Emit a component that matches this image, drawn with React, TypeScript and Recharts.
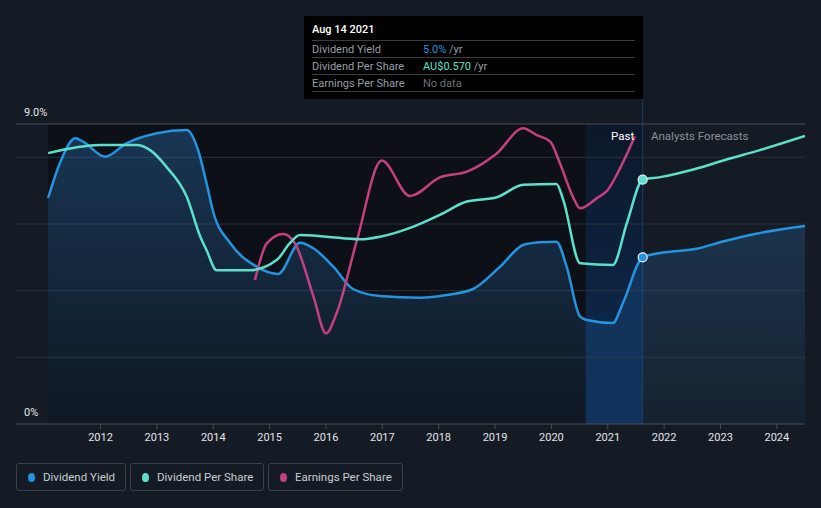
import React from 'react';
import { ComposedChart, Area, Line, XAxis, YAxis, ReferenceLine, ReferenceArea } from 'recharts';

// ---- data ----
const yearTicks = [2012, 2013, 2014, 2015, 2016, 2017, 2018, 2019, 2020, 2021, 2022, 2023, 2024];
const pctTicks = [0, 9];
const gridValues = [2, 4, 6, 8];

const yieldYears = [2011.07, 2011.28, 2011.55, 2011.69, 2012.08, 2012.46, 2013.0, 2013.53, 2013.73, 2013.88, 2014.0, 2014.3, 2014.77, 2015.15, 2015.54, 2015.77, 2016.13, 2016.48, 2016.96, 2017.67, 2018.14, 2018.61, 2019.09, 2019.5, 2019.8, 2020.09, 2020.27, 2020.51, 2020.63, 2021.09, 2021.27, 2021.62, 2021.93, 2022.55, 2023.08, 2023.7, 2024.5];
const yieldValues = [6.78, 7.83, 8.57, 8.47, 8.02, 8.42, 8.72, 8.82, 8.22, 7.23, 6.36, 5.43, 4.72, 4.5, 5.44, 5.28, 4.72, 4.05, 3.84, 3.79, 3.87, 4.05, 4.72, 5.37, 5.45, 5.47, 4.72, 3.22, 3.12, 3.03, 3.63, 5.0, 5.13, 5.25, 5.49, 5.73, 5.94];

const dpsYears = [2011.07, 2011.99, 2012.64, 2012.88, 2013.17, 2013.53, 2013.77, 2013.88, 2014.06, 2014.65, 2015.13, 2015.36, 2015.54, 2016.01, 2016.6, 2016.96, 2017.54, 2018.02, 2018.5, 2019.03, 2019.5, 2020.09, 2020.21, 2020.51, 2021.09, 2021.34, 2021.62, 2021.93, 2022.55, 2023.08, 2023.7, 2024.5];
const dpsValues = [0.632, 0.651, 0.651, 0.639, 0.6, 0.53, 0.437, 0.406, 0.359, 0.359, 0.383, 0.422, 0.441, 0.437, 0.431, 0.437, 0.46, 0.488, 0.519, 0.529, 0.558, 0.56, 0.523, 0.375, 0.371, 0.469, 0.57, 0.576, 0.595, 0.616, 0.639, 0.672];

const epsYears = [2014.74, 2014.95, 2015.24, 2015.45, 2015.78, 2016.0, 2016.19, 2016.55, 2016.99, 2017.49, 2018.02, 2018.5, 2019.03, 2019.5, 2019.74, 2019.98, 2020.15, 2020.38, 2020.51, 2020.8, 2021.0, 2021.22, 2021.48];
const epsValues = [0.48, 0.602, 0.633, 0.602, 0.424, 0.302, 0.37, 0.613, 0.878, 0.76, 0.822, 0.841, 0.902, 0.986, 0.963, 0.941, 0.87, 0.758, 0.719, 0.752, 0.78, 0.853, 0.958];

const pastStart = 2011.07;
const forecastStart = 2020.61;
const currentYear = 2021.62;

const yieldData = yieldYears.map((x, i) => ({ x, v: yieldValues[i] }));
const dpsData = dpsYears.map((x, i) => ({ x, v: dpsValues[i] }));
const epsData = epsYears.map((x, i) => ({ x, v: epsValues[i] }));

const C_YIELD = '#2394df';
const C_DPS = '#5ce0cc';
const C_EPS = '#c4407f';
const FONT = 'Roboto, "Noto Sans", sans-serif';

const makeDot = (color: string) => (props: any) => {
  const { cx, cy, payload, index } = props;
  if (payload && payload.x === currentYear) {
    return <circle key={`d${index}`} cx={cx} cy={cy} r={4.5} fill={color} stroke="#e8eef5" strokeWidth={1.2} />;
  }
  return <g key={`d${index}`} />;
};

const PctTick = (props: any) => {
  const { y, payload } = props;
  return (
    <text x={24} y={y - 8} fill="#e6e8eb" fontSize={11} fontFamily={FONT}>
      {payload.value === 0 ? '0%' : `${Number(payload.value).toFixed(1)}%`}
    </text>
  );
};

export default function App() {
  const legend = [
    { label: 'Dividend Yield', color: C_YIELD, w: 110 },
    { label: 'Dividend Per Share', color: C_DPS, w: 134 },
    { label: 'Earnings Per Share', color: C_EPS, w: 135 },
  ];
  return (
    <div style={{ position: 'absolute', left: 0, top: 0, width: 821, height: 508, background: '#151b24', fontFamily: FONT, overflow: 'hidden' }}>
      <ComposedChart width={821} height={508} margin={{ top: 124, right: 16, bottom: 54, left: 0 }}>
        <defs>
          <linearGradient id="yieldFill" x1="0" y1="0" x2="0" y2="1">
            <stop offset="0%" stopColor="#2c76bf" stopOpacity={0.36} />
            <stop offset="100%" stopColor="#2c76bf" stopOpacity={0.07} />
          </linearGradient>
          <linearGradient id="nowFill" x1="0" y1="0" x2="0" y2="1">
            <stop offset="0%" stopColor="#0c1829" stopOpacity={1} />
            <stop offset="100%" stopColor="#0e2d54" stopOpacity={1} />
          </linearGradient>
        </defs>
        <XAxis
          xAxisId="x"
          type="number"
          dataKey="x"
          domain={[2010.5, 2024.5]}
          ticks={yearTicks}
          allowDataOverflow
          height={30}
          stroke="#4a4f57"
          tickSize={5}
          tickMargin={4}
          tick={{ fill: '#e2e4e8', fontSize: 11, fontFamily: FONT }}
          tickFormatter={(v: number) => String(v)}
        />
        <YAxis yAxisId="pct" domain={[0, 9]} ticks={pctTicks} width={16} axisLine={false} tickLine={false} tick={PctTick} allowDataOverflow interval={0} />
        <YAxis yAxisId="dps" domain={[0, 0.7]} hide allowDataOverflow />
        <YAxis yAxisId="eps" domain={[0, 1]} hide allowDataOverflow />

        <ReferenceArea zIndex={-20} xAxisId="x" yAxisId="pct" x1={pastStart} x2={currentYear} y1={0} y2={9} fill="#000000" fillOpacity={0.35} stroke="none" />
        <ReferenceArea zIndex={-10} xAxisId="x" yAxisId="pct" x1={forecastStart} x2={currentYear} y1={0} y2={9} fill="url(#nowFill)" fillOpacity={1} stroke="none" />

        {gridValues.map((g) => (
          <ReferenceLine zIndex={-5} key={g} xAxisId="x" yAxisId="pct" y={g} stroke="#2a3039" strokeWidth={1} />
        ))}
        <ReferenceLine zIndex={-5} xAxisId="x" yAxisId="pct" y={9} stroke="#474c54" strokeWidth={1} />
        <ReferenceLine
          zIndex={-5}
          xAxisId="x"
          yAxisId="pct"
          segment={[{ x: currentYear, y: 0 }, { x: currentYear, y: 9.75 }]}
          ifOverflow="visible"
          stroke="#1f3b5e"
          strokeWidth={1}
        />

        <Area
          xAxisId="x"
          yAxisId="pct"
          data={yieldData}
          dataKey="v"
          type="monotone"
          stroke={C_YIELD}
          strokeWidth={2.5}
          fill="url(#yieldFill)"
          fillOpacity={1}
          isAnimationActive={false}
          dot={makeDot(C_YIELD)}
          activeDot={false}
        />
        <Line
          xAxisId="x"
          yAxisId="eps"
          data={epsData}
          dataKey="v"
          type="monotone"
          stroke={C_EPS}
          strokeWidth={2.5}
          dot={false}
          activeDot={false}
          isAnimationActive={false}
        />
        <Line
          xAxisId="x"
          yAxisId="dps"
          data={dpsData}
          dataKey="v"
          type="monotone"
          stroke={C_DPS}
          strokeWidth={2.5}
          dot={makeDot(C_DPS)}
          activeDot={false}
          isAnimationActive={false}
        />
      </ComposedChart>

      {/* Past / Forecast labels */}
      <div style={{ position: 'absolute', left: 611, top: 129, fontSize: 11.5, color: '#ffffff' }}>Past</div>
      <div style={{ position: 'absolute', left: 651, top: 129, fontSize: 11.5, color: '#8b9097' }}>Analysts Forecasts</div>

      {/* Tooltip box */}
      <div style={{ position: 'absolute', left: 304, top: 16, width: 339, height: 83, background: '#000000', fontSize: 11 }}>
        <div style={{ position: 'absolute', left: 8, top: 7, color: '#ffffff', fontWeight: 500 }}>Aug 14 2021</div>
        {[
          { label: 'Dividend Yield', value: '5.0%', color: C_YIELD, unit: ' /yr' },
          { label: 'Dividend Per Share', value: 'AU$0.570', color: C_DPS, unit: ' /yr' },
          { label: 'Earnings Per Share', value: 'No data', color: '#6d7177', unit: '' },
        ].map((r, i) => (
          <div key={r.label} style={{ position: 'absolute', left: 8, top: 24 + i * 17, width: 323, height: 17, borderTop: '1px solid #383c42' }}>
            <span style={{ position: 'absolute', left: 0, top: 2, color: '#9a9ea5' }}>{r.label}</span>
            <span style={{ position: 'absolute', left: 111, top: 2, color: r.color }}>
              {r.value}
              <span style={{ color: '#9a9ea5' }}>{r.unit}</span>
            </span>
          </div>
        ))}
        <div style={{ position: 'absolute', left: 8, top: 75, width: 323, borderTop: '1px solid #383c42' }} />
      </div>

      {/* Legend */}
      <div style={{ position: 'absolute', left: 16, top: 463, display: 'flex', gap: 4 }}>
        {legend.map((l) => (
          <div
            key={l.label}
            style={{ width: l.w, height: 28, border: '1px solid #3b4049', borderRadius: 3, boxSizing: 'border-box', display: 'flex', alignItems: 'center', paddingLeft: 11, fontSize: 11.5, color: '#c9cdd2' }}
          >
            <span style={{ display: 'inline-block', width: 7, height: 9, borderRadius: '50%', background: l.color, marginRight: 8 }} />
            {l.label}
          </div>
        ))}
      </div>
    </div>
  );
}
